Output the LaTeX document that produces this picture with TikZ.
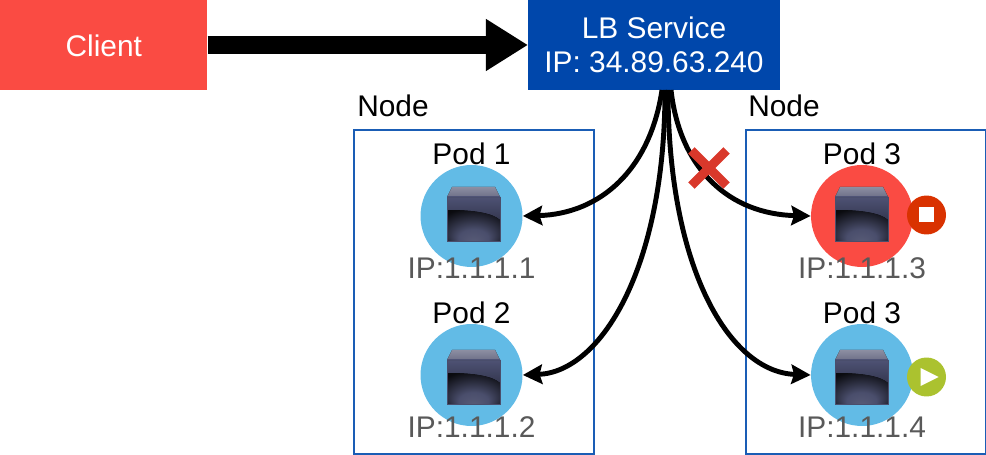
\documentclass[tikz,border=0pt]{standalone}
\usepackage{fontspec}
\setmainfont{Liberation Sans}
\usetikzlibrary{arrows.meta,shapes.misc}
\definecolor{clientred}{HTML}{FA4B43}
\definecolor{lbblue}{HTML}{0047AB}
\definecolor{boxblue}{HTML}{1A5DB5}
\definecolor{podblue}{HTML}{62BBE6}
\definecolor{crossred}{HTML}{D9382B}
\definecolor{stopred}{HTML}{D93200}
\definecolor{playgreen}{HTML}{ABC22F}
\definecolor{ipgray}{HTML}{595959}
\definecolor{cubetop}{HTML}{8C8EA2}
\definecolor{cubetopdark}{HTML}{6E7088}
\definecolor{cubefront}{HTML}{4E5274}
\definecolor{cubemid}{HTML}{33364E}
\definecolor{cubeedge}{HTML}{4A4E6C}
\pgfdeclareradialshading{cubeglow}{\pgfpoint{0bp}{-28bp}}{
	color(0bp)=(cubeedge!60!cubetopdark); color(14bp)=(cubeedge); color(36bp)=(black!85!cubeedge); color(50bp)=(black)}
\tikzset{
	big/.style={font=\fontsize{17}{20}\selectfont},
	nodebox/.style={draw=boxblue,line width=1pt,anchor=north west,inner sep=0pt},
	pod/.style={circle,fill=#1,minimum size=2.04cm,inner sep=0pt},
	status/.style={circle,fill=#1,minimum size=0.78cm,inner sep=0pt},
	label/.style={big,anchor=base},
	iplabel/.style={big,anchor=base,text=ipgray},
	route/.style={line width=2.8pt,-{Stealth[length=11pt,width=11pt,inset=1.5pt]}},
}
% cube in the middle of a pod, (#1,#2) is its front top left corner
\newcommand{\podcube}[2]{
	\begin{scope}[shift={(#1,#2)}]
		\fill[top color=cubetop,bottom color=cubetopdark] (5,-10) -- (48,-10) -- (53,0) -- (0,0) -- cycle;
		\fill[top color=cubefront,bottom color=cubemid] (0,0) rectangle (53,24);
		\fill[shading=cubeglow] (0,13) .. controls (22,13) and (44,15) .. (53,23) -- (53,44) -- (0,44) -- cycle;
		\draw[cubeedge,line width=0.5pt] (0,0) rectangle (53,44);
	\end{scope}
}
\begin{document}
\begin{tikzpicture}[x=0.02cm,y=-0.02cm]
	\useasboundingbox (0,0) rectangle (986,455);
	
	\node[big,fill=clientred,text=white,minimum width=4.14cm,minimum height=1.8cm,inner sep=0pt,anchor=north west] (client) at (0,0) {Client};
	\node[fill=lbblue,minimum width=5.04cm,minimum height=1.8cm,inner sep=0pt,anchor=north west] (lb) at (528,0) {};
	\node[label,text=white] (lbname) at (654,39) {LB Service};
	\node[label,text=white] (lbip) at (654,73) {IP: 34.89.63.240};
	
	\node[nodebox,minimum width=4.8cm,minimum height=6.48cm] (leftnode) at (353,129) {};
	\node[nodebox,minimum width=4.8cm,minimum height=6.48cm] (rightnode) at (745,129) {};
	\node[label] (leftname) at (393,117) {Node};
	\node[label] (rightname) at (784,117) {Node};
	
	\node[pod=podblue] (pod1) at (471.5,216) {};
	\node[pod=podblue] (pod2) at (471.5,375) {};
	\node[pod=clientred] (pod3) at (862,216) {};
	\node[pod=podblue] (pod4) at (862,375) {};
	
	\podcube{447}{197}
	\podcube{447}{360}
	\podcube{835}{197}
	\podcube{835}{360}
	
	\node[label] (pod1name) at (471.5,165) {Pod 1};
	\node[label] (pod2name) at (471.5,324) {Pod 2};
	\node[label] (pod3name) at (862,165) {Pod 3};
	\node[label] (pod4name) at (862,324) {Pod 3};
	\node[iplabel] (pod1ip) at (471.5,279) {IP:1.1.1.1};
	\node[iplabel] (pod2ip) at (471.5,437) {IP:1.1.1.2};
	\node[iplabel] (pod3ip) at (862,279) {IP:1.1.1.3};
	\node[iplabel] (pod4ip) at (862,437) {IP:1.1.1.4};
	
	\node[status=stopred] (stop) at (926.5,215) {};
	\node[fill=white,minimum size=0.3cm,inner sep=0pt] (stopsquare) at (stop) {};
	\node[status=playgreen] (play) at (926.5,377) {};
	\fill[white] (920.5,368) -- (938.5,377) -- (920.5,386) -- cycle;
	
	\coordinate (lbout1) at (662,90);
	\coordinate (lbout2) at (665,90);
	\coordinate (lbout3) at (668,90);
	\coordinate (lbout4) at (671,90);
	
	\draw[line width=10.2pt,-{Triangle[length=24pt,width=28pt]}] (client.east |- 0,45) -- (lb.west |- 0,45);
	\draw[route] (lbout1) .. controls (650,170) and (600,214) .. (pod1.east);
	\draw[route] (lbout2) .. controls (665,270) and (600,372) .. (pod2.east);
	\draw[route] (lbout4) .. controls (680,170) and (730,214) .. (pod3.west);
	\draw[route] (lbout3) .. controls (668,270) and (730,372) .. (pod4.west);
	
	\node[cross out,draw=crossred,line width=5.2pt,minimum size=0.52cm,inner sep=0pt] (blocked) at (709,168) {};
\end{tikzpicture}
\end{document}
